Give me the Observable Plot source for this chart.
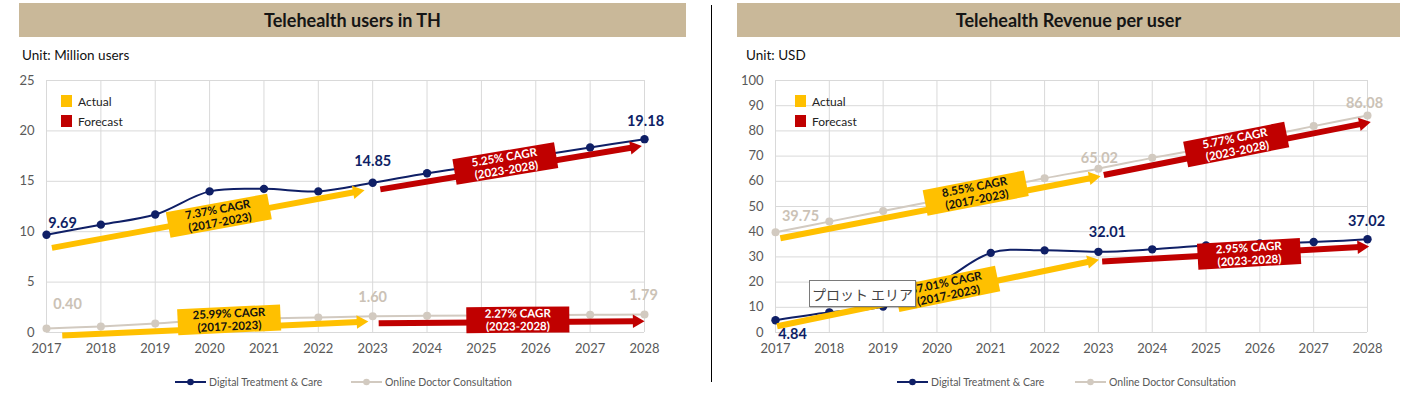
<!DOCTYPE html>
<html><head><meta charset="utf-8">
<script src="https://cdn.jsdelivr.net/npm/d3@7"></script>
<script src="https://cdn.jsdelivr.net/npm/@observablehq/plot@0.6"></script>
<style>
body{margin:0;background:#fff;font-family:Lato,"Open Sans",sans-serif;}
#wrap{position:relative;width:1408px;height:394px;overflow:hidden;background:#fff;}
.banner{position:absolute;top:3px;height:34px;background:#C9B899;display:flex;align-items:center;justify-content:center;font-weight:bold;font-size:18px;color:#151515;}
.unit{position:absolute;top:47px;font-size:13.5px;color:#111;}
.plot{position:absolute;top:65px;}
.key{position:absolute;font-size:12px;color:#222;display:flex;align-items:center;height:14px;}
.key .sq{display:inline-block;width:11px;height:12px;margin-right:6px;}
.legend{position:absolute;top:375px;font-size:10.5px;color:#595959;display:flex;align-items:center;height:14px;}
.legend svg{margin-right:3px;}
.sep{position:absolute;left:711px;top:5px;width:1px;height:377px;background:#000;}
.tip{position:absolute;left:809px;top:280px;width:105px;height:25px;background:#fff;border:1px solid #7a7a7a;font-family:"Noto Sans CJK JP",sans-serif;font-size:14px;color:#444;display:flex;align-items:center;justify-content:center;white-space:nowrap;box-shadow:1px 1px 1px rgba(0,0,0,.15);}
</style></head>
<body><div id="wrap">
<div class="banner" style="left:19px;width:667px;">Telehealth users in TH</div>
<div class="banner" style="left:737px;width:663px;">Telehealth Revenue per user</div>
<div class="unit" style="left:22px;">Unit: Million users</div>
<div class="unit" style="left:746px;">Unit: USD</div>
<div class="sep"></div>
<div id="left" class="plot" style="left:0px;"></div>
<div id="right" class="plot" style="left:705px;"></div>
<div class="key" style="left:61px;top:94px;"><span class="sq" style="background:#FFC000"></span>Actual</div>
<div class="key" style="left:61px;top:114px;"><span class="sq" style="background:#C00000"></span>Forecast</div>
<div class="key" style="left:795px;top:94px;"><span class="sq" style="background:#FFC000"></span>Actual</div>
<div class="key" style="left:795px;top:114px;"><span class="sq" style="background:#C00000"></span>Forecast</div>
<div id="legL1" class="legend" style="left:175px;"></div>
<div id="legL2" class="legend" style="left:351px;"></div>
<div id="legR1" class="legend" style="left:897px;"></div>
<div id="legR2" class="legend" style="left:1075px;"></div>
<div class="tip">プロット エリア</div>
</div>
<script>
// ---------- data ----------
const years = [2017,2018,2019,2020,2021,2022,2023,2024,2025,2026,2027,2028];
const seriesNames = ["Digital Treatment & Care","Online Doctor Consultation"];
const usersDigital = [9.69,10.7,11.7,14.0,14.25,14.0,14.85,15.8,16.6,17.5,18.35,19.18];
const usersOnline  = [0.40,0.6,0.9,1.25,1.4,1.5,1.60,1.65,1.69,1.72,1.76,1.79];
const revDigital   = [4.84,8.0,10.3,19.0,31.6,32.6,32.01,33.0,34.5,35.3,35.9,37.02];
const revOnline    = [39.75,44.0,48.2,52.4,56.7,61.2,65.02,69.3,73.2,77.5,81.9,86.08];
const usersTicks = [0,5,10,15,20,25];
const revTicks = [0,10,20,30,40,50,60,70,80,90,100];
const labelYears = [2017,2023,2028];
const usersCagr = [
  {kind:"actual",   label:"7.37% CAGR\n(2017-2023)",  x1:2017.1,  y1:8.4,  x2:2022.85, y2:14.1, cx:2020.17, cy:11.58},
  {kind:"forecast", label:"5.25% CAGR\n(2023-2028)",  x1:2023.14, y1:14.2, x2:2027.95, y2:18.5, cx:2025.44, cy:16.76},
  {kind:"actual",   label:"25.99% CAGR\n(2017-2023)", x1:2017.29, y1:-0.3, x2:2022.92, y2:1.09, cx:2020.36, cy:1.26},
  {kind:"forecast", label:"2.27% CAGR\n(2023-2028)",  x1:2023.11, y1:0.92, x2:2028.0,  y2:1.12, cx:2025.67, cy:1.26}
];
const revCagr = [
  {kind:"actual",   label:"8.55% CAGR\n(2017-2023)",  x1:2017.09, y1:37.4, x2:2023.04, y2:62.0, cx:2020.72, cy:55.3},
  {kind:"forecast", label:"5.77% CAGR\n(2023-2028)",  x1:2023.1,  y1:62.5, x2:2028.06, y2:83.5, cx:2025.56, cy:74.6},
  {kind:"actual",   label:"37.01% CAGR\n(2017-2023)", x1:2017.03, y1:2.5,  x2:2023.01, y2:28.9, cx:2020.19, cy:17.3},
  {kind:"forecast", label:"2.95% CAGR\n(2023-2028)",  x1:2023.07, y1:28.2, x2:2028.03, y2:34.1, cx:2025.8,  cy:31.2}
];

// ---------- styles ----------
const NAVY = "#0F1F66", TAN = "#D2CAC0", TANTXT = "#CBC2B6";
const KIND = {actual:{fill:"#FFC000", text:"#111"}, forecast:{fill:"#C00000", text:"#fff"}};
const H = 300, MT = 15, MB = 33;

function rows(vals){ return years.map((y,i)=>({year:y, v:vals[i]})); }

function annotations(list, pxX, pxY){
  const head = 11.6, bw = 103, bh = 26;
  const r = list.map(a=>{
    const dxp = (a.x2-a.x1)*pxX, dyp = -(a.y2-a.y1)*pxY;
    const len = Math.hypot(dxp,dyp), ux = dxp/len, uy = dyp/len;
    return {...a, col:KIND[a.kind].fill, tcol:KIND[a.kind].text,
      ang: Math.atan2(dyp,dxp)*180/Math.PI,
      sx2: a.x2 - ux*head*0.8/pxX, sy2: a.y2 + uy*head*0.8/pxY,
      hx: a.x2 - ux*head*(2/3)/pxX, hy: a.y2 + uy*head*(2/3)/pxY,
      bx1: a.cx - ux*bw/2/pxX, by1: a.cy + uy*bw/2/pxY,
      bx2: a.cx + ux*bw/2/pxX, by2: a.cy - uy*bw/2/pxY};
  });
  return [
    Plot.link(r,{x1:"x1",y1:"y1",x2:"sx2",y2:"sy2",stroke:"col",strokeWidth:6,strokeLinecap:"butt"}),
    Plot.dot(r,{x:"hx",y:"hy",symbol:"triangle",r:5,fill:"col",stroke:"none",rotate:d=>d.ang+90}),
    Plot.link(r,{x1:"bx1",y1:"by1",x2:"bx2",y2:"by2",stroke:"col",strokeWidth:bh,strokeLinecap:"butt"}),
    Plot.text(r,{x:"cx",y:"cy",text:"label",rotate:"ang",fill:"tcol",fontSize:11.5,fontWeight:"bold",lineHeight:1.12})
  ];
}

function chart({width, ml, mr, ymax, ticks, digital, online, cagr, lab}){
  const pxX = (width-ml-mr)/11, pxY = (H-MT-MB)/ymax;
  const d = rows(digital), o = rows(online);
  const pick = (arr, yr) => arr.filter(p=>p.year===yr);
  const fmt = p => p.v.toFixed(2);
  const L = (arr, yr, fill, dx, dy) => Plot.text(pick(arr,yr),{x:"year",y:"v",text:fmt,fill,dx,dy,fontSize:14.5,fontWeight:"bold"});
  return Plot.plot({
    width, height:H, marginLeft:ml, marginRight:mr, marginTop:MT, marginBottom:MB,
    style:{fontFamily:"Lato, 'Open Sans', sans-serif", background:"transparent", overflow:"visible"},
    x:{domain:[2017,2028]}, y:{domain:[0,ymax]}, color:{type:"identity"},
    marks:[
      Plot.gridX({ticks:years, stroke:"#D9D9D9", strokeOpacity:1}),
      Plot.gridY({ticks, stroke:"#D9D9D9", strokeOpacity:1}),
      Plot.axisX({ticks:years, tickFormat:t=>String(t), tickSize:0, tickPadding:11, fontSize:13, color:"#595959"}),
      Plot.axisY({ticks, tickSize:0, tickPadding:12, fontSize:13, color:"#595959"}),
      Plot.line(o,{x:"year",y:"v",curve:"catmull-rom",stroke:TAN,strokeWidth:2}),
      Plot.dot(o,{x:"year",y:"v",r:4,fill:TAN,stroke:"none"}),
      Plot.line(d,{x:"year",y:"v",curve:"catmull-rom",stroke:NAVY,strokeWidth:2}),
      Plot.dot(d,{x:"year",y:"v",r:4.2,fill:NAVY,stroke:"none"}),
      ...annotations(cagr, pxX, pxY),
      ...lab(d, o, L)
    ]
  });
}

document.getElementById("left").append(chart({
  width:700, ml:46, mr:56, ymax:25, ticks:usersTicks, digital:usersDigital, online:usersOnline, cagr:usersCagr,
  lab:(d,o,L)=>[
    L(d,labelYears[0],NAVY,16,-11), L(d,labelYears[1],NAVY,0,-21), L(d,labelYears[2],NAVY,1,-18),
    L(o,labelYears[0],TANTXT,21,-24), L(o,labelYears[1],TANTXT,0,-19), L(o,labelYears[2],TANTXT,-1,-19)
  ]
}));
document.getElementById("right").append(chart({
  width:703, ml:70, mr:41, ymax:100, ticks:revTicks, digital:revDigital, online:revOnline, cagr:revCagr,
  lab:(d,o,L)=>[
    L(d,labelYears[0],NAVY,17,14), L(d,labelYears[1],NAVY,9,-19), L(d,labelYears[2],NAVY,-1,-18),
    L(o,labelYears[0],TANTXT,25,-16), L(o,labelYears[1],TANTXT,1,-10), L(o,labelYears[2],TANTXT,-3,-12)
  ]
}));

function legendItem(id, name, color){
  const el = document.getElementById(id);
  el.innerHTML = `<svg width="31" height="10"><line x1="0" y1="5" x2="31" y2="5" stroke="${color}" stroke-width="2"/><circle cx="15.5" cy="5" r="3.3" fill="${color}"/></svg><span></span>`;
  el.querySelector("span").textContent = name;
}
legendItem("legL1", seriesNames[0], NAVY);
legendItem("legL2", seriesNames[1], TAN);
legendItem("legR1", seriesNames[0], NAVY);
legendItem("legR2", seriesNames[1], TAN);
</script>
</body></html>
